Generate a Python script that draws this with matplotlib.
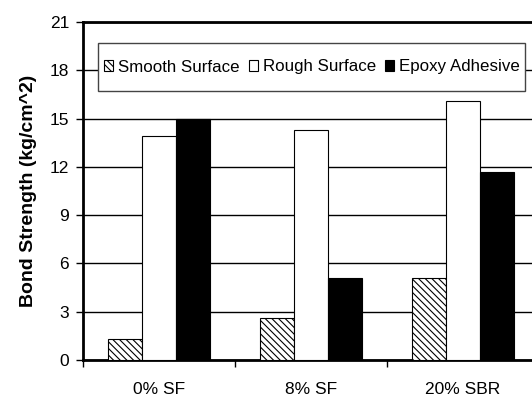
import numpy as np
import matplotlib
matplotlib.use("Agg")
import matplotlib.pyplot as plt
from matplotlib.patches import Rectangle

plt.rcParams['font.family'] = ['Liberation Sans', 'DejaVu Sans']
plt.rcParams['hatch.linewidth'] = 0.8
plt.rcParams['hatch.color'] = '#333333'

# bond strength per mix, kg/cm^2
mixes = ['0% SF', '8% SF', '20% SBR']
smooth = [1.3, 2.6, 5.1]
rough = [13.9, 14.3, 16.1]
epoxy = [15.0, 5.1, 11.7]
yticks = [0, 3, 6, 9, 12, 15, 18, 21]

W, H = 532, 396
fig = plt.figure(figsize=(W / 100, H / 100), dpi=100)
ax = fig.add_axes([0.156, 0.091, 0.857, 0.853])

x = np.arange(len(mixes))
w = 0.225
ax.bar(x - w, smooth, w, color='white', edgecolor='black', linewidth=0.8,
       hatch='\\\\\\\\\\', label='Smooth Surface', zorder=3)
ax.bar(x, rough, w, color='white', edgecolor='black', linewidth=0.8,
       label='Rough Surface', zorder=3)
ax.bar(x + w, epoxy, w, color='black', edgecolor='black', linewidth=0.8,
       label='Epoxy Adhesive', zorder=3)

ax.set_xlim(-0.5, 2.5)
ax.set_ylim(0, 21)
ax.set_yticks(yticks)
ax.tick_params(axis='y', direction='out', length=5, width=1, labelsize=12.5, pad=5)
ax.set_xticks(x)
ax.set_xticklabels(mixes, fontsize=12.5)
ax.tick_params(axis='x', which='major', length=0, pad=16)
ax.set_xticks([-0.5, 0.5, 1.5], minor=True)
ax.tick_params(axis='x', which='minor', direction='out', length=5, width=1)

ax.yaxis.grid(True, color='black', linewidth=1)
ax.set_axisbelow(True)
for side in ['left', 'top', 'bottom', 'right']:
    ax.spines[side].set_linewidth(2)

ax.set_ylabel('Bond Strength (kg/cm^2)', fontsize=14, fontweight='bold', labelpad=9)

# legend box drawn separately so its padding can differ per side
box = Rectangle((98 / W, 305 / H), 427 / W, 48 / H, transform=fig.transFigure,
                facecolor='white', edgecolor='#444444', linewidth=1, zorder=4)
fig.add_artist(box)

handles, labels = ax.get_legend_handles_labels()
leg = fig.legend(handles, labels, loc='center left', bbox_to_anchor=(104 / W, 329 / H),
                 ncol=3, fontsize=12.2, frameon=False,
                 handlelength=0.55, handleheight=0.55, handletextpad=0.3,
                 columnspacing=0.5, borderaxespad=0, borderpad=0)
leg.set_zorder(5)

fig.savefig('out.png', dpi=100)
